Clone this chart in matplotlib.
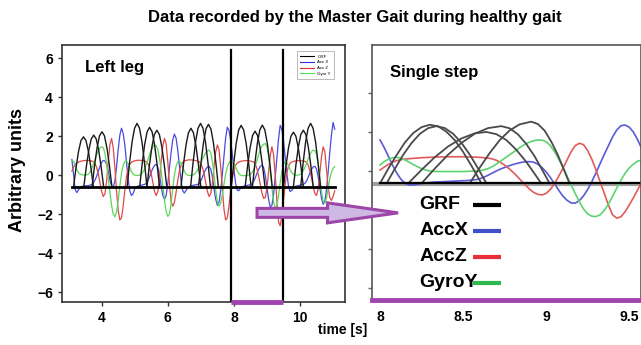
import matplotlib
matplotlib.use('Agg')
import matplotlib.pyplot as plt
from matplotlib import font_manager
from matplotlib.lines import Line2D
from matplotlib.patches import FancyArrow
import numpy as np

plt.rcParams['font.family'] = ['Liberation Sans', 'DejaVu Sans']
plt.rcParams['font.weight'] = 'bold'

names = {f.name for f in font_manager.fontManager.ttflist}
title_font = 'Liberation Sans Narrow' if 'Liberation Sans Narrow' in names else 'Liberation Sans'

# ---------------- left panel: whole recording, sampled every 0.05 s from 3.10 s
left_t0, left_dt = 3.10, 0.05
accx_left = [
    0.80, 0.05, -0.75, -0.90, -0.75, -0.62, -0.58, -0.56, -0.55, -0.55, -0.54, -0.52, -0.48, -0.40, -0.25, -0.05,
    0.20, 0.45, 0.65, 0.75, 0.72, 0.55, 0.20, -0.25, -0.55, -0.62, -0.30, 0.40, 1.30, 2.05, 2.40,
    2.15, 1.55, 0.70, -0.20, -0.80, -1.05, -0.95, -0.72, -0.60, -0.56, -0.54, -0.52, -0.50, -0.48, -0.42, -0.28,
    -0.08, 0.15, 0.35, 0.50, 0.55, 0.40, 0.00, -0.55, -1.05, -1.25, -1.05, -0.45, 0.35, 1.15, 1.80, 2.10,
    1.90, 1.30, 0.50, -0.30, -0.80, -0.92, -0.80, -0.65, -0.58, -0.55, -0.53, -0.52, -0.50, -0.48, -0.42, -0.30,
    -0.10, 0.12, 0.30, 0.42, 0.45, 0.30, -0.10, -0.70, -1.25, -1.55, -1.40, -0.80, 0.05, 1.00, 1.90, 2.45,
    2.30, 1.80, 1.10, 0.30, -0.40, -0.78, -0.80, -0.68, -0.60, -0.57, -0.55, -0.53, -0.51, -0.49, -0.44, -0.32,
    -0.12, 0.10, 0.30, 0.45, 0.50, 0.38, -0.02, -0.62, -1.25, -1.65, -1.55, -0.98, -0.10, 0.90, 1.85, 2.55,
    2.35, 1.75, 0.95, 0.10, -0.55, -0.85, -0.78, -0.66, -0.59, -0.56, -0.54, -0.52, -0.50, -0.48, -0.42, -0.30,
    -0.10, 0.12, 0.30, 0.42, 0.45, 0.30, -0.10, -0.65, -1.20, -1.50, -1.35, -0.75, 0.15, 1.15, 2.05, 2.70, 2.35,
]
accz_left = [
    0.20, 0.40, 0.55, 0.62, 0.66, 0.70, 0.72, 0.74, 0.75, 0.75, 0.75, 0.74, 0.72, 0.68, 0.58, 0.38,
    0.05, -0.40, -0.85, -1.10, -0.95, -0.30, 0.70, 1.55, 1.88, 1.40, 0.40, -0.80, -1.80, -2.30, -2.20,
    -1.60, -0.80, -0.10, 0.35, 0.55, 0.65, 0.70, 0.73, 0.75, 0.76, 0.76, 0.75, 0.74, 0.72, 0.68, 0.58,
    0.38, 0.05, -0.40, -0.85, -1.05, -0.85, -0.20, 0.70, 1.50, 1.88, 1.60, 0.70, -0.45, -1.35, -1.60, -1.40,
    -0.90, -0.30, 0.20, 0.50, 0.65, 0.72, 0.75, 0.77, 0.78, 0.78, 0.77, 0.76, 0.74, 0.72, 0.68, 0.58,
    0.38, 0.05, -0.40, -0.85, -1.10, -0.95, -0.40, 0.45, 1.20, 1.54, 1.30, 0.45, -0.70, -1.75, -2.30, -2.20,
    -1.60, -0.85, -0.20, 0.25, 0.50, 0.62, 0.67, 0.70, 0.72, 0.73, 0.74, 0.74, 0.73, 0.72, 0.70, 0.66,
    0.55, 0.30, -0.06, -0.50, -0.93, -1.20, -1.15, -0.65, 0.15, 1.00, 1.45, 1.05, 0.00, -1.30, -2.40, -2.60,
    -2.10, -1.30, -0.50, 0.10, 0.45, 0.60, 0.67, 0.70, 0.72, 0.73, 0.74, 0.74, 0.73, 0.72, 0.70, 0.64,
    0.50, 0.22, -0.15, -0.60, -0.95, -1.05, -0.70, 0.10, 0.95, 1.45, 1.20, 0.30, -0.60, -1.15, -1.30, -1.10, -0.80,
]
gyroy_left = [
    0.75, 0.70, 0.50, 0.28, 0.12, 0.05, 0.02, 0.00, 0.00, 0.01, 0.05, 0.15, 0.32, 0.55, 0.80, 1.05,
    1.25, 1.40, 1.45, 1.40, 1.10, 0.55, -0.15, -0.90, -1.55, -2.00, -2.14, -1.90, -1.30, -0.55, 0.10,
    0.50, 0.70, 0.72, 0.60, 0.38, 0.18, 0.05, 0.00, -0.02, -0.02, 0.00, 0.05, 0.15, 0.32, 0.55, 0.80,
    1.05, 1.28, 1.45, 1.54, 1.50, 1.30, 0.85, 0.20, -0.55, -1.30, -1.85, -2.12, -2.00, -1.45, -0.70, 0.00,
    0.45, 0.68, 0.72, 0.60, 0.40, 0.20, 0.06, 0.00, -0.02, -0.02, 0.00, 0.04, 0.12, 0.25, 0.42, 0.62,
    0.82, 1.00, 1.15, 1.25, 1.28, 1.15, 0.70, 0.00, -0.80, -1.40, -1.60, -1.45, -1.00, -0.45, 0.05, 0.40,
    0.62, 0.72, 0.70, 0.58, 0.40, 0.22, 0.08, 0.00, -0.03, -0.03, -0.03, -0.02, 0.00, 0.04, 0.12, 0.28,
    0.50, 0.78, 1.05, 1.30, 1.48, 1.58, 1.62, 1.45, 0.95, 0.20, -0.65, -1.40, -1.70, -1.55, -1.05, -0.40,
    0.15, 0.55, 0.70, 0.65, 0.48, 0.28, 0.12, 0.03, 0.00, -0.01, 0.00, 0.03, 0.10, 0.22, 0.40, 0.62,
    0.85, 1.05, 1.20, 1.28, 1.25, 1.05, 0.55, -0.15, -0.85, -1.35, -1.45, -1.20, -0.70, -0.20, 0.15, 0.35, 0.43,
]
grf_base_left = -0.6
grf_left_peak_t = [3.45, 3.76, 4.01, 5.07, 5.45, 5.67, 6.70, 6.99, 7.23, 8.22, 8.64, 8.86, 9.80, 10.10, 10.32]
grf_left_humps = [
    [-0.6, 0.38, 1.21, 1.77, 1.96, 1.77, 1.21, 0.38, -0.6],
    [-0.6, 0.41, 1.27, 1.85, 2.05, 1.85, 1.27, 0.41, -0.6],
    [-0.6, 0.48, 1.39, 2.01, 2.22, 2.01, 1.39, 0.48, -0.6],
    [-0.6, 0.64, 1.70, 2.40, 2.65, 2.40, 1.70, 0.64, -0.6],
    [-0.6, 0.57, 1.56, 2.22, 2.45, 2.22, 1.56, 0.57, -0.6],
    [-0.6, 0.51, 1.45, 2.08, 2.30, 2.08, 1.45, 0.51, -0.6],
    [-0.6, 0.55, 1.52, 2.17, 2.40, 2.17, 1.52, 0.55, -0.6],
    [-0.6, 0.64, 1.70, 2.40, 2.65, 2.40, 1.70, 0.64, -0.6],
    [-0.6, 0.63, 1.66, 2.36, 2.60, 2.36, 1.66, 0.63, -0.6],
    [-0.6, 0.61, 1.63, 2.31, 2.55, 2.31, 1.63, 0.61, -0.6],
    [-0.6, 0.49, 1.41, 2.03, 2.25, 2.03, 1.41, 0.49, -0.6],
    [-0.6, 0.61, 1.63, 2.32, 2.56, 2.32, 1.63, 0.61, -0.6],
    [-0.6, 0.47, 1.38, 1.99, 2.20, 1.99, 1.38, 0.47, -0.6],
    [-0.6, 0.51, 1.45, 2.08, 2.30, 2.08, 1.45, 0.51, -0.6],
    [-0.6, 0.64, 1.70, 2.40, 2.65, 2.40, 1.70, 0.64, -0.6],
]
hump_offsets = np.linspace(-0.3, 0.3, 9)
step_start, step_end = 7.9, 9.5

# ---------------- right panel: single step, sampled every 0.025 s from 8.0 s
right_t0, right_dt = 8.0, 0.025
accx_right = [
    1.59, 1.20, 0.75, 0.30, -0.10, -0.42, -0.63, -0.72, -0.72, -0.68,
    -0.64, -0.61, -0.59, -0.57, -0.56, -0.55, -0.54, -0.53, -0.52, -0.51,
    -0.50, -0.49, -0.47, -0.45, -0.40, -0.32, -0.22, -0.11, 0.00, 0.10,
    0.18, 0.26, 0.33, 0.39, 0.44, 0.47, 0.48, 0.45, 0.35, 0.18,
    -0.05, -0.33, -0.65, -0.98, -1.28, -1.50, -1.64, -1.65, -1.52, -1.28,
    -0.95, -0.55, -0.10, 0.38, 0.85, 1.30, 1.75, 2.10, 2.32, 2.36,
    2.25, 2.00, 1.62, 1.15,
]
accz_right = [
    0.05, 0.20, 0.34, 0.45, 0.53, 0.58, 0.61, 0.63, 0.65, 0.66,
    0.68, 0.69, 0.70, 0.71, 0.72, 0.72, 0.73, 0.73, 0.73, 0.73,
    0.73, 0.72, 0.72, 0.71, 0.70, 0.68, 0.66, 0.62, 0.55, 0.44,
    0.30, 0.13, -0.06, -0.27, -0.50, -0.72, -0.93, -1.10, -1.20, -1.23,
    -1.15, -0.95, -0.65, -0.28, 0.12, 0.55, 0.98, 1.30, 1.42, 1.35,
    1.05, 0.60, 0.05, -0.55, -1.15, -1.75, -2.25, -2.42, -2.35, -2.10,
    -1.75, -1.38, -0.98, -0.58,
]
gyroy_right = [
    0.31, 0.48, 0.60, 0.68, 0.70, 0.66, 0.57, 0.45, 0.33, 0.22,
    0.12, 0.05, 0.00, -0.02, -0.03, -0.03, -0.03, -0.03, -0.03, -0.03,
    -0.03, -0.02, -0.01, 0.00, 0.02, 0.06, 0.12, 0.22, 0.35, 0.50,
    0.65, 0.80, 0.95, 1.10, 1.25, 1.38, 1.48, 1.55, 1.59, 1.58,
    1.50, 1.30, 1.00, 0.62, 0.20, -0.25, -0.70, -1.15, -1.58, -1.95,
    -2.20, -2.32, -2.34, -2.25, -2.02, -1.70, -1.30, -0.88, -0.48, -0.12,
    0.15, 0.35, 0.50, 0.56,
]
grf_base_right = -0.63
grf_right_t = [
    [8.00, 8.05, 8.10, 8.15, 8.20, 8.25, 8.30, 8.35, 8.40, 8.45, 8.50, 8.55, 8.61],
    [8.04, 8.09, 8.14, 8.19, 8.24, 8.29, 8.34, 8.39, 8.44, 8.49, 8.54, 8.59, 8.64],
    [8.17, 8.25, 8.33, 8.41, 8.49, 8.57, 8.64, 8.70, 8.76, 8.82, 8.88, 8.94, 8.97],
    [8.25, 8.33, 8.41, 8.49, 8.57, 8.65, 8.73, 8.78, 8.83, 8.88, 8.93, 8.98, 9.02],
    [8.54, 8.60, 8.66, 8.72, 8.78, 8.84, 8.91, 8.95, 8.99, 9.03, 9.07, 9.11, 9.14],
]
grf_right_y = [
    [-0.63, 0.13, 0.82, 1.47, 1.95, 2.25, 2.37, 2.29, 2.01, 1.58, 0.98, 0.27, -0.63],
    [-0.63, 0.13, 0.84, 1.44, 1.91, 2.20, 2.30, 2.20, 1.91, 1.44, 0.84, 0.13, -0.63],
    [-0.63, 0.06, 0.71, 1.26, 1.67, 1.93, 2.00, 1.89, 1.59, 1.09, 0.47, -0.26, -0.63],
    [-0.63, 0.13, 0.84, 1.44, 1.91, 2.20, 2.30, 2.19, 1.88, 1.39, 0.76, 0.00, -0.63],
    [-0.63, 0.17, 0.92, 1.58, 2.08, 2.39, 2.53, 2.41, 2.08, 1.52, 0.83, 0.01, -0.63],
]

labels = ['GRF', 'AccX', 'AccZ', 'GyroY']
small_labels = ['GRF', 'Acc X', 'Acc Z', 'Gyro Y']
big_colors = ['black', '#4050c8', '#e8303a', '#2eb84e']
purple = '#a044b0'

t_left = left_t0 + left_dt * np.arange(len(accx_left))
t_right = right_t0 + right_dt * np.arange(len(accx_right))

fig = plt.figure(figsize=(6.41, 3.45), dpi=100)
ax1 = fig.add_axes([0.0967, 0.1246, 0.4415, 0.745])
ax2 = fig.add_axes([0.580, 0.1304, 0.4197, 0.739])

# left panel
ax1.plot(t_left, accx_left, color='#4a4ae0', lw=0.9)
ax1.plot(t_left, accz_left, color='#e04848', lw=0.9)
ax1.plot(t_left, gyroy_left, color='#5ad85a', lw=0.9)
for pk, hump in zip(grf_left_peak_t, grf_left_humps):
    ax1.plot(pk + hump_offsets, hump, color='#1a1a1a', lw=1.0)
ax1.plot([t_left[0], t_left[-1]], [grf_base_left, grf_base_left], color='black', lw=2)

ax1.axvline(step_start, ymax=0.98, color='black', lw=1.6)
ax1.axvline(step_end, ymax=0.98, color='black', lw=1.6)

ax1.set_xlim(2.80, 11.36)
ax1.set_ylim(-6.51, 6.67)
ax1.plot([step_start, step_end], [-6.51, -6.51], color=purple, lw=3.5,
         solid_capstyle='butt', clip_on=False, zorder=5)
ax1.set_xticks([4, 6, 8, 10])
ax1.set_yticks(range(-6, 7, 2))
ax1.tick_params(labelsize=10, length=3, width=1, color='#333333')
for s in ax1.spines.values():
    s.set_color('#333333')
    s.set_linewidth(1.2)

ax1.text(0.081, 0.914, 'Left leg', transform=ax1.transAxes, fontsize=12,
         va='center', ha='left')

small_handles = [Line2D([], [], color=c, lw=0.8) for c in ['black', '#3030e0', '#e03030', '#50e050']]
leg1 = ax1.legend(small_handles, small_labels, loc='upper right', bbox_to_anchor=(0.97, 0.985),
                  prop={'size': 3.2, 'weight': 'normal'}, handlelength=3,
                  frameon=True, fancybox=False, borderpad=0.8, labelspacing=0.35)
leg1.get_frame().set_edgecolor('#999999')
leg1.get_frame().set_linewidth(0.6)

# right panel
ax2.plot([7.95, 9.57], [grf_base_right - 0.06] * 2, color='#a0a0a0', lw=3)
ax2.plot(t_right, accx_right, color='#5a5ad6', lw=1.2)
ax2.plot(t_right, accz_right, color='#e25a5a', lw=1.2)
ax2.plot(t_right, gyroy_right, color='#5cd46e', lw=1.2)
for tt, yy in zip(grf_right_t, grf_right_y):
    ax2.plot(tt, yy, color='#4a4a4a', lw=1.3)
ax2.plot([right_t0, 9.57], [grf_base_right] * 2, color='black', lw=1.6)

ax2.set_xlim(7.95, 9.57)
ax2.set_ylim(-6.62, 6.46)
ax2.set_xticks([8, 8.5, 9, 9.5])
ax2.set_xticklabels(['8', '8.5', '9', '9.5'])
ax2.set_yticks(range(-6, 5, 2))
ax2.set_yticklabels([])
ax2.tick_params(axis='x', labelsize=10, length=0, pad=7)
ax2.tick_params(axis='y', length=3, width=1, color='#666666')
for s in ax2.spines.values():
    s.set_color('#555555')
    s.set_linewidth(1.2)
ax2.spines['bottom'].set_color(purple)
ax2.spines['bottom'].set_linewidth(3.5)

ax2.text(0.067, 0.894, 'Single step', transform=ax2.transAxes, fontsize=12,
         va='center', ha='left')

# hand-placed key: labels left aligned, colour bars in one column
for i, (lab, col) in enumerate(zip(labels, big_colors)):
    yk = 0.373 - i * 0.102
    ax2.text(0.178, yk, lab, transform=ax2.transAxes, fontsize=14,
             fontweight='bold', va='center', ha='left')
    ax2.plot([0.378, 0.482], [yk, yk], transform=ax2.transAxes, color=col, lw=3,
             solid_capstyle='butt')

# arrow from the left panel into the single step
fig.add_artist(FancyArrow(0.401, 0.383, 0.22, 0, width=0.026, head_width=0.058,
                          head_length=0.11, length_includes_head=True,
                          transform=fig.transFigure, facecolor='#cdb9e4',
                          edgecolor='#9c46a8', lw=2.2, zorder=10))

fig.text(0.554, 0.948, 'Data recorded by the Master Gait during healthy gait',
         ha='center', va='center', fontsize=12, fontweight='bold', family=title_font)
fig.text(0.028, 0.507, 'Arbitrary units', rotation=90, ha='center', va='center',
         fontsize=13, fontweight='bold')
fig.text(0.496, 0.043, 'time [s]', ha='left', va='center', fontsize=10, fontweight='bold')

fig.savefig('out.png', dpi=100)
